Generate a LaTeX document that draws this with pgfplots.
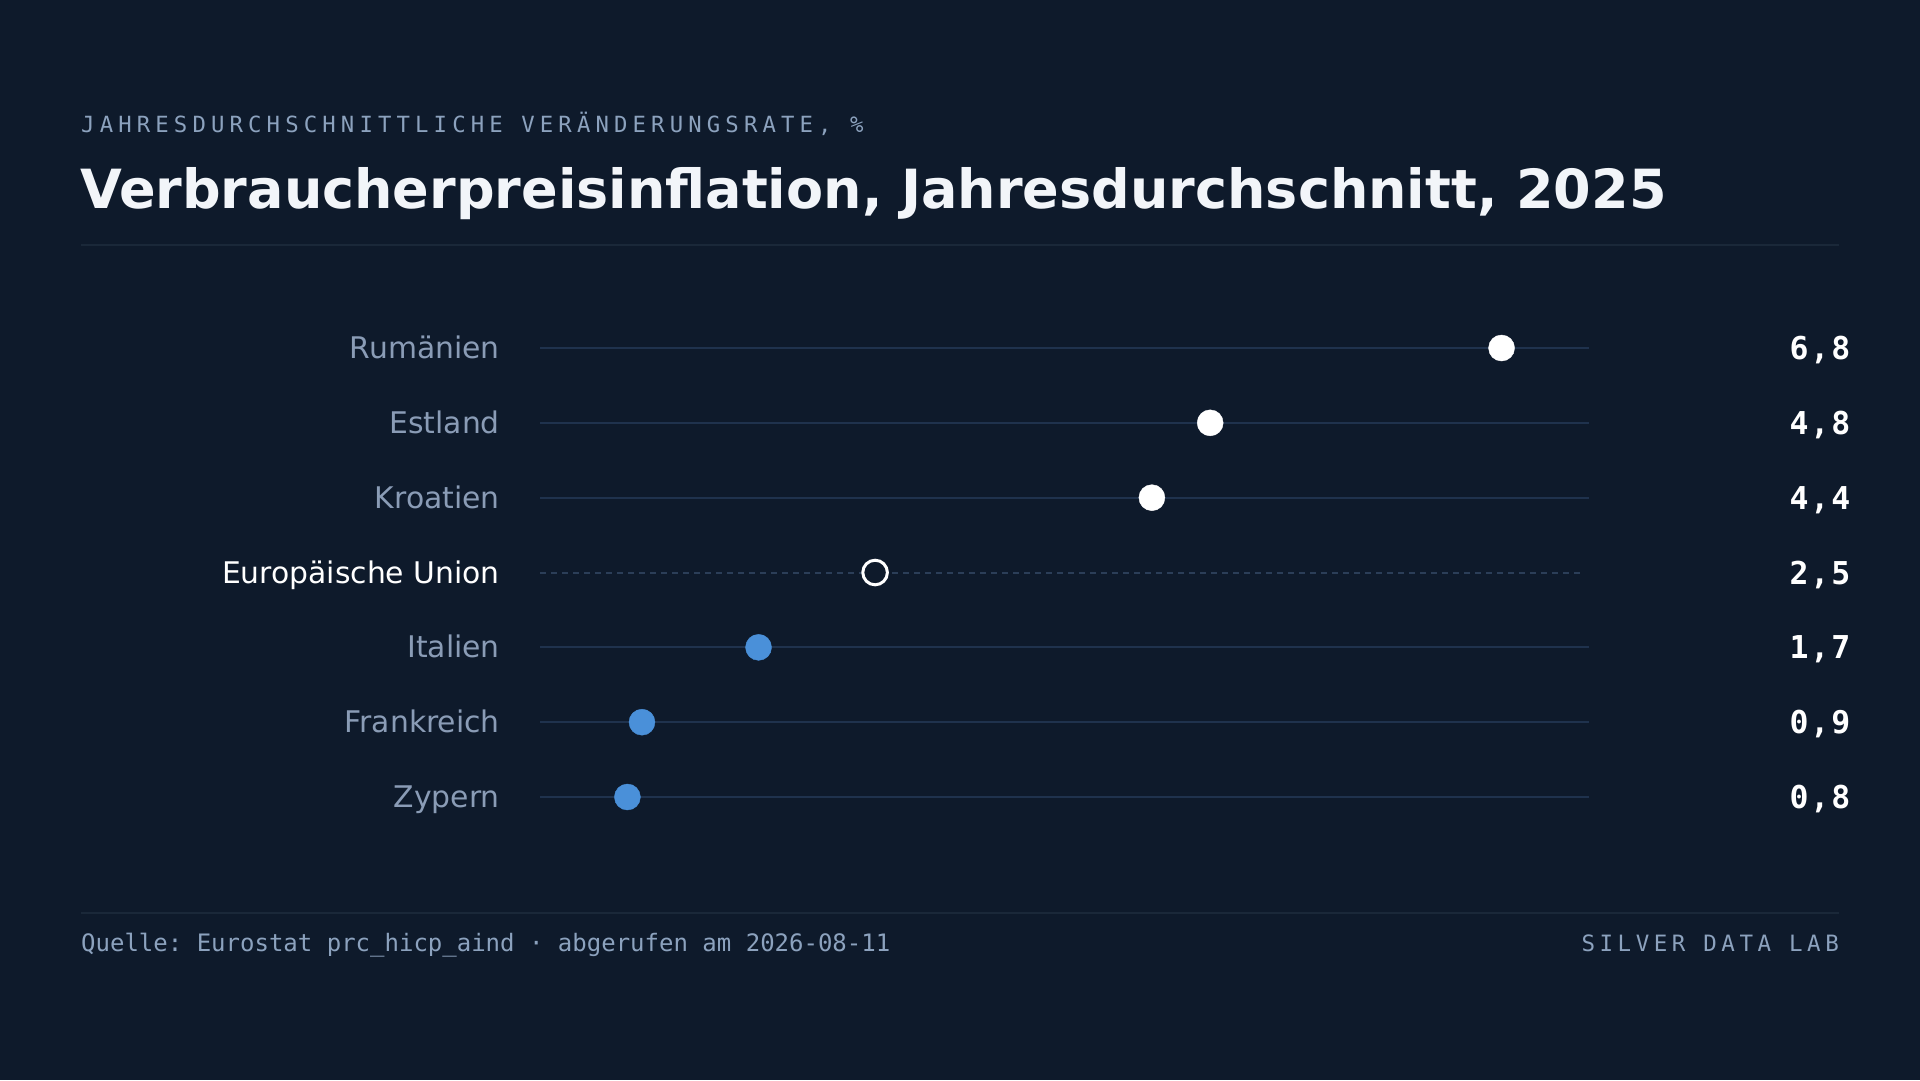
\documentclass[border=0pt]{standalone}
\usepackage{pgfplots}
\pgfplotsset{compat=1.18}
\usepackage{fontspec}
\setmainfont{DejaVu Sans}
\newfontfamily\mono{DejaVu Sans Mono}
\newfontfamily\monols[LetterSpace=23]{DejaVu Sans Mono}
\newfontfamily\monoft[LetterSpace=20]{DejaVu Sans Mono}
\newfontfamily\monovals[LetterSpace=6]{DejaVu Sans Mono}
\frenchspacing

\definecolor{bg}{HTML}{0E1A2B}
\definecolor{rowline}{HTML}{1F324D}
\definecolor{dashline}{HTML}{2B3E58}
\definecolor{rule}{HTML}{1A2839}
\definecolor{lab}{HTML}{8A9CB6}
\definecolor{sub}{HTML}{8CA2BE}
\definecolor{titlec}{HTML}{F2F5F9}
\definecolor{dotblue}{HTML}{4A90D9}

\begin{document}
\begin{tikzpicture}[x=1pt,y=1pt]
  % canvas, 1 px = 1 pt, y runs downwards
  \fill[bg] (0,0) rectangle (1920,-1080);

  % header
  \node[anchor=base west, inner sep=0pt, text=sub, font=\monols\fontsize{22.3}{26}\selectfont]
    at (81,-132) {JAHRESDURCHSCHNITTLICHE VERÄNDERUNGSRATE, \%};
  \node[anchor=base west, inner sep=0pt, text=titlec, font=\bfseries\fontsize{54}{60}\selectfont]
    at (80,-208) {Verbraucherpreisinflation, Jahresdurchschnitt, 2025};
  \draw[rule, line width=1.5pt] (81,-245) -- (1839,-245);

  \begin{axis}[
      at={(540pt,-797pt)}, anchor=south west,
      scale only axis,
      width=1049pt, height=449pt,
      xmin=0.2, xmax=7.4,
      ymin=0, ymax=6,
      axis line style={draw=none},
      major tick length=0pt,
      xtick=\empty,
      clip=false,
      ytick={0,1,2,3,4,5,6},
      yticklabels={Zypern,Frankreich,Italien,{\color{white}Europäische Union},Kroatien,Estland,Rumänien},
      yticklabel style={anchor=base east, inner sep=0pt, xshift=-40pt, yshift=-10.5pt, text=lab,
        font=\fontsize{29.8}{34}\selectfont},
      every axis plot/.append style={line cap=butt},
    ]
    % row lines
    \addplot[rowline, line width=2pt] coordinates {(0.2,6) (7.4,6)};
    \addplot[rowline, line width=2pt] coordinates {(0.2,5) (7.4,5)};
    \addplot[rowline, line width=2pt] coordinates {(0.2,4) (7.4,4)};
    \addplot[dashline, line width=2pt, dash pattern=on 6pt off 5pt] coordinates {(0.2,3) (7.36,3)};
    \addplot[rowline, line width=2pt] coordinates {(0.2,2) (7.4,2)};
    \addplot[rowline, line width=2pt] coordinates {(0.2,1) (7.4,1)};
    \addplot[rowline, line width=2pt] coordinates {(0.2,0) (7.4,0)};

    % dots
    \addplot[only marks, mark=*, mark size=13pt, white, mark options={draw=white, fill=white}]
      coordinates {(6.8,6) (4.8,5) (4.4,4)};
    \addplot[only marks, mark=*, mark size=12.3pt, mark options={draw=white, fill=bg, line width=3pt}]
      coordinates {(2.5,3)};
    \addplot[only marks, mark=*, mark size=13pt, mark options={draw=dotblue, fill=dotblue}]
      coordinates {(1.7,2) (0.9,1) (0.8,0)};

    % value labels at the right
    \addplot[only marks, mark=none, point meta=explicit symbolic,
      nodes near coords,
      nodes near coords style={anchor=base east, inner sep=0pt, xshift=261.5pt, yshift=-11.5pt, text=white,
        font=\monovals\bfseries\fontsize{31.5}{36}\selectfont}]
      coordinates {(7.4,6) [6,8] (7.4,5) [4,8] (7.4,4) [4,4] (7.4,3) [2,5]
                   (7.4,2) [1,7] (7.4,1) [0,9] (7.4,0) [0,8]};
  \end{axis}

  % footer
  \draw[rule, line width=1.5pt] (81,-913) -- (1839,-913);
  \node[anchor=base west, inner sep=0pt, text=sub, font=\mono\fontsize{24}{28}\selectfont]
    at (81,-951) {Quelle: Eurostat prc\_hicp\_aind · abgerufen am 2026-08-11};
  \node[anchor=base east, inner sep=0pt, text=sub, font=\monoft\fontsize{22.5}{26}\selectfont]
    at (1839,-951) {SILVER DATA LAB};
\end{tikzpicture}
\end{document}
